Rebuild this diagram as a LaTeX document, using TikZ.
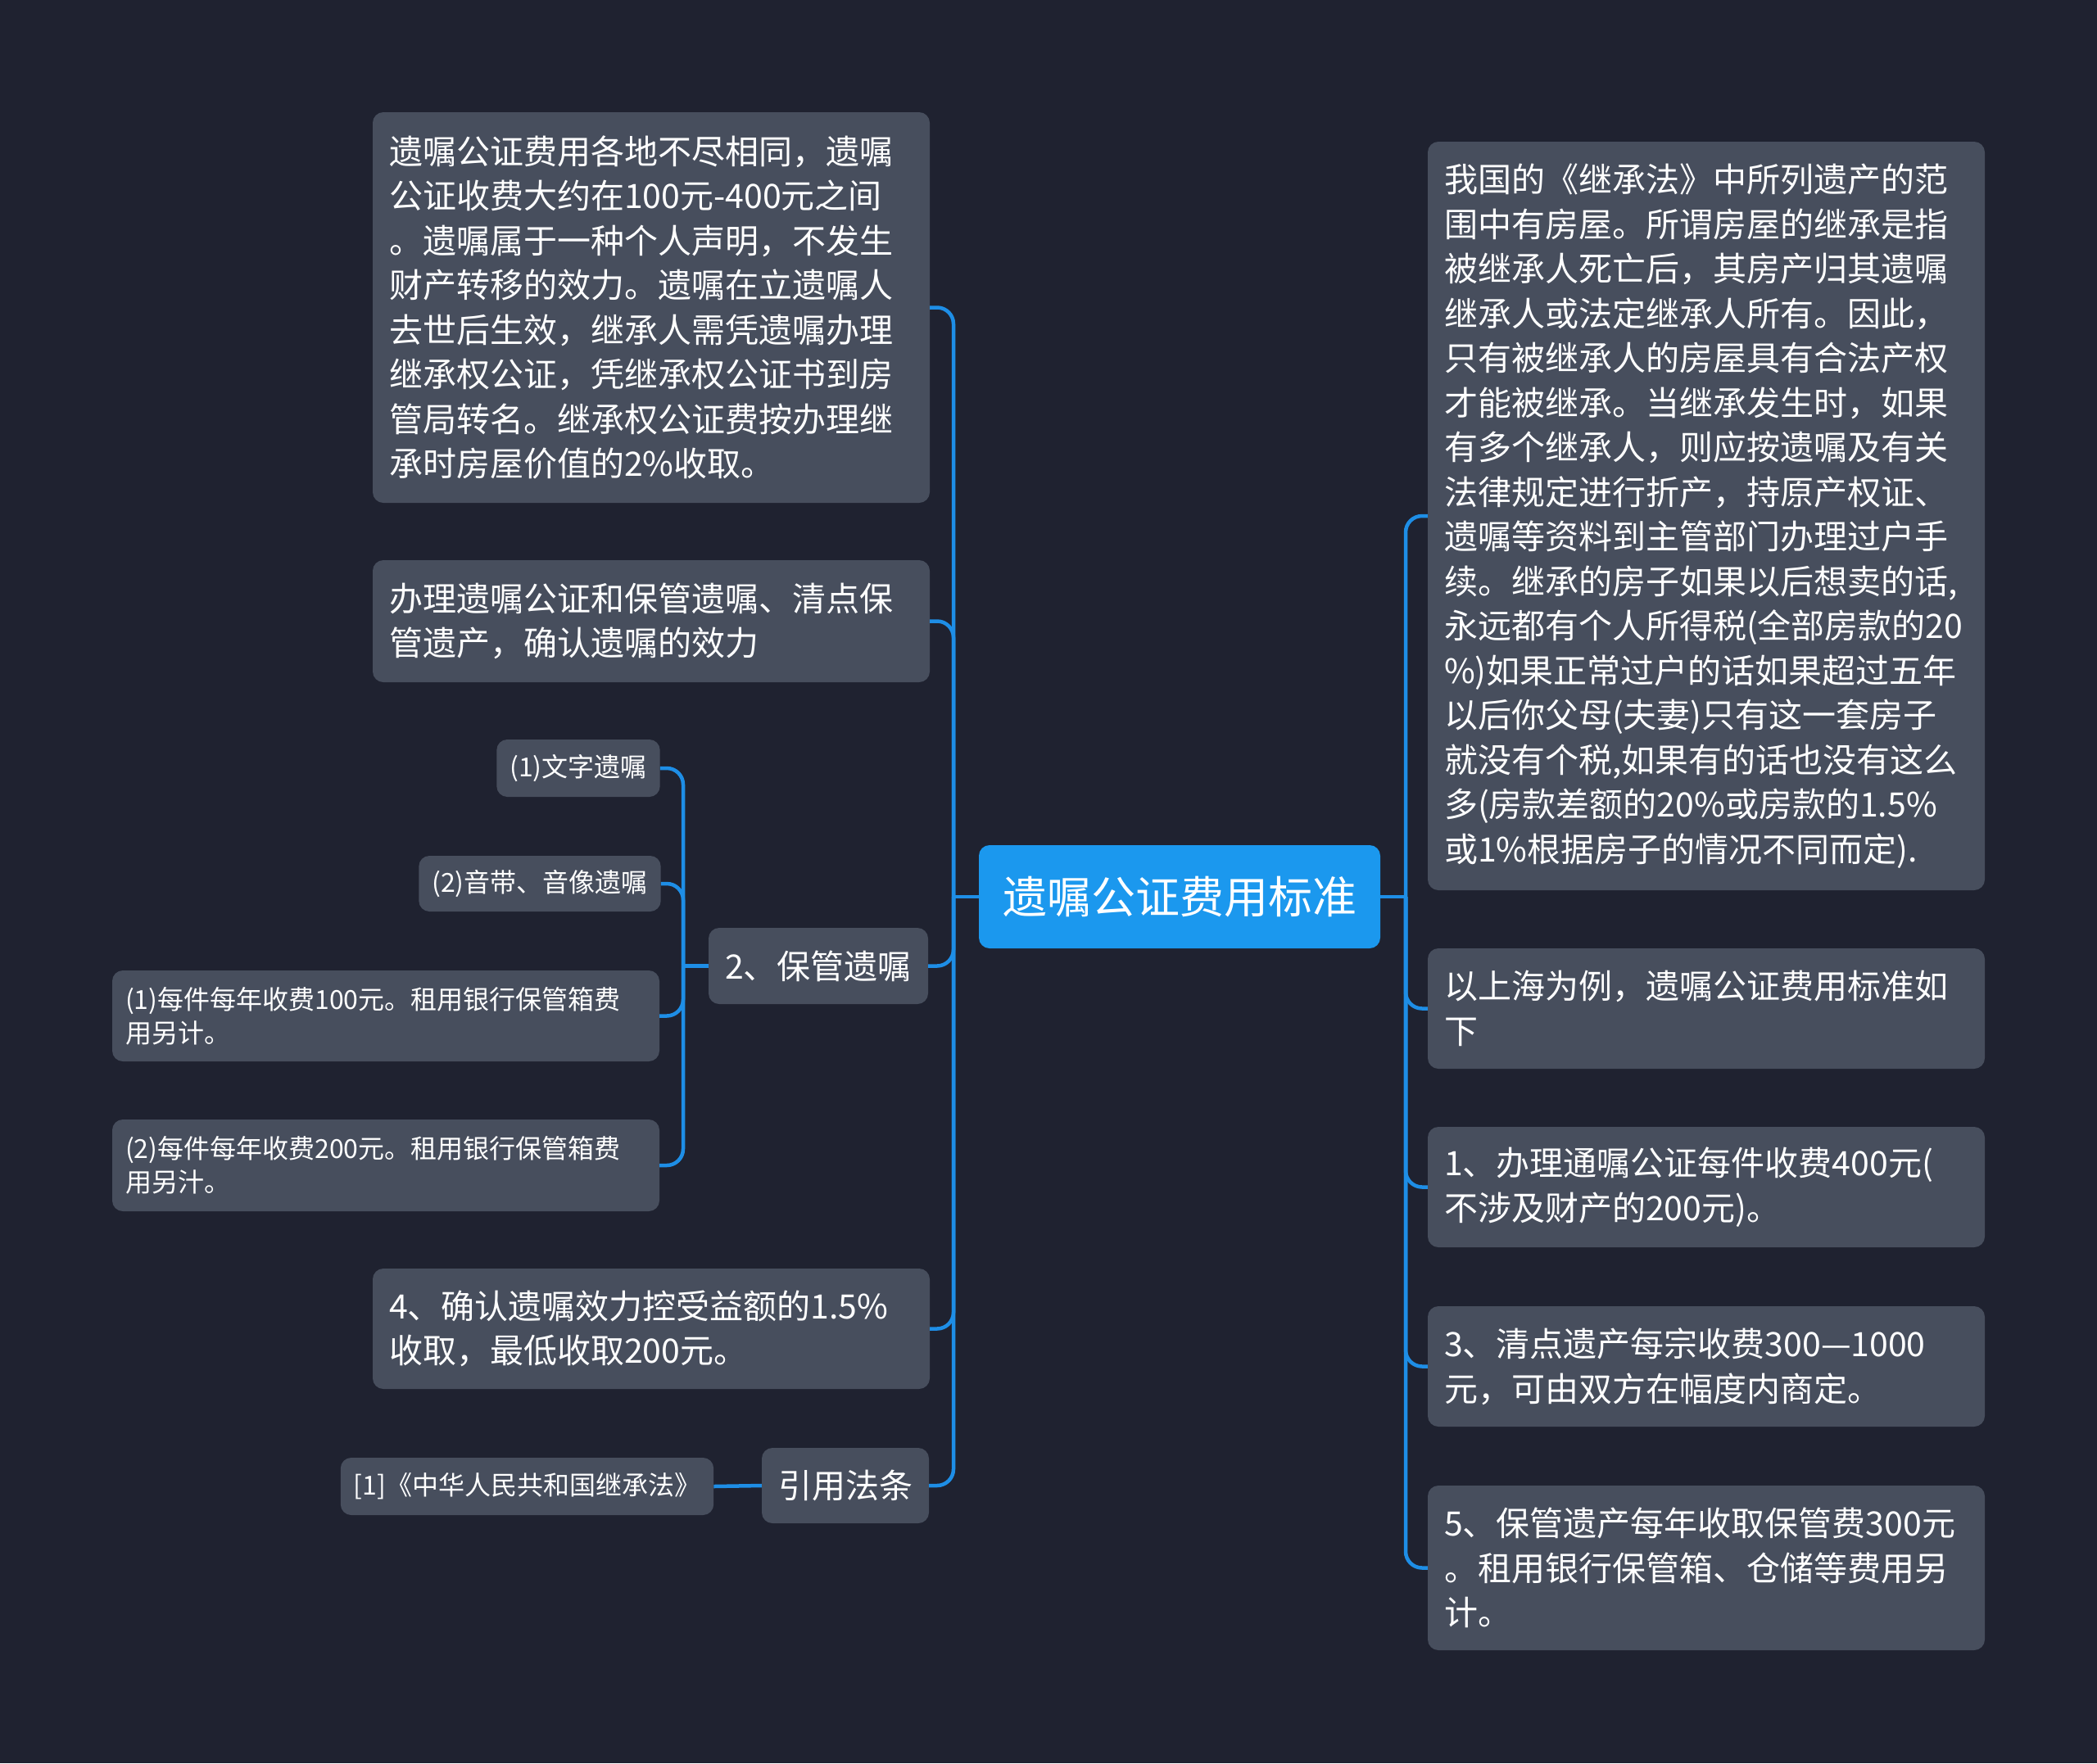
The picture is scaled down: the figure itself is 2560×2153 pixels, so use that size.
\documentclass[tikz,border=0pt]{standalone}
\usepackage{fontspec}
\setmainfont{Noto Sans CJK SC}
\definecolor{bgc}{HTML}{1F2230}
\definecolor{boxc}{HTML}{474E5D}
\definecolor{mainc}{HTML}{1B98EE}
\definecolor{linec}{HTML}{1E8EE6}
\tikzset{
  box/.style={fill=boxc, rounded corners=13pt, text=white, inner xsep=20pt, inner ysep=0pt, anchor=center},
  bigtext/.style={box, align=left, font=\fontsize{41pt}{54.5pt}\selectfont},
  midtext/.style={box, align=center, font=\fontsize{41pt}{54.5pt}\selectfont},
  smalltext/.style={box, align=left, inner xsep=16pt, font=\fontsize{32pt}{41pt}\selectfont},
  mainbox/.style={fill=mainc, rounded corners=13pt, text=white, align=center, font=\fontsize{54pt}{60pt}\selectfont},
  conn/.style={draw=linec, line width=4.5pt, rounded corners=20pt},
}
\begin{document}
\begin{tikzpicture}[x=1pt,y=-1pt]
\useasboundingbox (0,0) rectangle (2560,2153);
\fill[bgc] (0,0) rectangle (2560,2153);

% center
\node[mainbox, minimum width=490pt, minimum height=126pt] (C) at (1440,1095) {遗嘱公证费用标准};

% left side
\node[bigtext, minimum width=676pt, minimum height=477pt, text width=640pt] (L1) at (795,375.5) {遗嘱公证费用各地不尽相同，遗嘱\\公证收费大约在100元-400元之间\\。遗嘱属于一种个人声明，不发生\\财产转移的效力。遗嘱在立遗嘱人\\去世后生效，继承人需凭遗嘱办理\\继承权公证，凭继承权公证书到房\\管局转名。继承权公证费按办理继\\承时房屋价值的2\%收取。};
\node[bigtext, minimum width=676pt, minimum height=149pt, text width=640pt] (L2) at (795,758.5) {办理遗嘱公证和保管遗嘱、清点保\\管遗产，确认遗嘱的效力};
\node[midtext, minimum width=268pt, minimum height=93pt] (L3) at (999,1179.5) {2、保管遗嘱};
\node[smalltext, align=center, minimum width=198pt, minimum height=70pt] (L3a) at (706,938) {(1)文字遗嘱};
\node[smalltext, align=center, minimum width=292pt, minimum height=68pt] (L3b) at (659,1079) {(2)音带、音像遗嘱};
\node[smalltext, minimum width=668pt, minimum height=111pt, text width=636pt] (L3c) at (471,1240.5) {(1)每件每年收费100元。租用银行保管箱费\\用另计。};
\node[smalltext, minimum width=668pt, minimum height=112pt, text width=636pt] (L3d) at (471,1423) {(2)每件每年收费200元。租用银行保管箱费\\用另汁。};
\node[bigtext, minimum width=676pt, minimum height=147pt, text width=640pt] (L4) at (795,1622.5) {4、确认遗嘱效力控受益额的1.5\%\\收取，最低收取200元。};
\node[midtext, minimum width=202pt, minimum height=92pt] (L5) at (1032,1814) {引用法条};
\node[smalltext, align=center, minimum width=451pt, minimum height=70pt] (L5a) at (643.5,1815) {[1]《中华人民共和国继承法》};

% right side
\node[bigtext, minimum width=676pt, minimum height=914pt, text width=640pt] (R1) at (2083,630) {我国的《继承法》中所列遗产的范\\围中有房屋。所谓房屋的继承是指\\被继承人死亡后，其房产归其遗嘱\\继承人或法定继承人所有。因此，\\只有被继承人的房屋具有合法产权\\才能被继承。当继承发生时，如果\\有多个继承人，则应按遗嘱及有关\\法律规定进行折产，持原产权证、\\遗嘱等资料到主管部门办理过户手\\续。继承的房子如果以后想卖的话,\\永远都有个人所得税(全部房款的20\\\%)如果正常过户的话如果超过五年\\以后你父母(夫妻)只有这一套房子\\就没有个税,如果有的话也没有这么\\多(房款差额的20\%或房款的1.5\%\\或1\%根据房子的情况不同而定).};
\node[bigtext, minimum width=676pt, minimum height=147pt, text width=640pt] (R2) at (2083,1231.5) {以上海为例，遗嘱公证费用标准如\\下};
\node[bigtext, minimum width=676pt, minimum height=147pt, text width=640pt] (R3) at (2083,1449.5) {1、办理通嘱公证每件收费400元(\\不涉及财产的200元)。};
\node[bigtext, minimum width=676pt, minimum height=147pt, text width=640pt] (R4) at (2083,1668.5) {3、清点遗产每宗收费300—1000\\元，可由双方在幅度内商定。};
\node[bigtext, minimum width=676pt, minimum height=201pt, text width=640pt] (R5) at (2083,1914.5) {5、保管遗产每年收取保管费300元\\。租用银行保管箱、仓储等费用另\\计。};

% spine coordinates
\coordinate (LS) at (1164,1095);
\coordinate (RS) at (1716,1095);
\coordinate (SS) at (834,1179.5);

% connectors left
\draw[conn] (C.west) -- (LS);
\foreach \n in {L1,L2,L3,L4,L5}{
  \draw[conn] (LS) |- (\n.east);
}
\draw[conn] (L3.west) -- (SS);
\foreach \n in {L3a,L3b,L3c,L3d}{
  \draw[conn] (SS) |- (\n.east);
}
\draw[conn] (L5.west) -- (L5a.east);

% connectors right
\draw[conn] (C.east) -- (RS);
\foreach \n in {R1,R2,R3,R4,R5}{
  \draw[conn] (RS) |- (\n.west);
}
\end{tikzpicture}
\end{document}
